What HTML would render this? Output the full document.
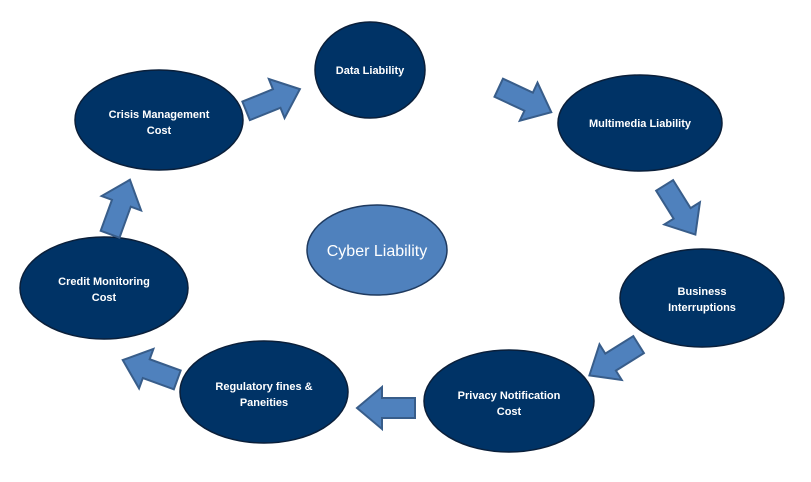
<!DOCTYPE html>
<html><head><style>
body{margin:0;background:#fff;width:811px;height:477px;overflow:hidden}
text{font-family:"Liberation Sans",sans-serif;fill:#fff;font-size:11px;font-weight:bold;text-anchor:middle}
</style></head><body>
<svg width="811" height="477" viewBox="0 0 811 477" xmlns="http://www.w3.org/2000/svg">
<defs>
<path id="ar" d="M-29,-10 L4,-10 L4,-21 L29,0 L4,21 L4,10 L-29,10 Z" fill="#4f81bd" stroke="#385d8a" stroke-width="2"/>
</defs>
<g fill="#003366" stroke="#0a1f3a" stroke-width="1.5">
<ellipse cx="370" cy="70" rx="55" ry="48"/>
<ellipse cx="640" cy="123" rx="82" ry="48"/>
<ellipse cx="159" cy="120" rx="84" ry="50"/>
<ellipse cx="104" cy="288" rx="84" ry="51"/>
<ellipse cx="702" cy="298" rx="82" ry="49"/>
<ellipse cx="509" cy="401" rx="85" ry="51"/>
<ellipse cx="264" cy="392" rx="84" ry="51"/>
</g>
<ellipse cx="377" cy="250" rx="70" ry="45" fill="#4f81bd" stroke="#1f3a5f" stroke-width="1.5"/>
<use href="#ar" transform="translate(273,100) rotate(-22)"/>
<use href="#ar" transform="translate(525,100) rotate(25)"/>
<use href="#ar" transform="translate(680,210) rotate(58)"/>
<use href="#ar" transform="translate(614,360) rotate(148)"/>
<use href="#ar" transform="translate(386,408) rotate(180)"/>
<use href="#ar" transform="translate(150,370) rotate(200)"/>
<use href="#ar" transform="translate(120,207) rotate(-70)"/>
<text x="370" y="74">Data Liability</text>
<text x="640" y="127">Multimedia Liability</text>
<text x="159" y="118">Crisis Management</text>
<text x="159" y="134">Cost</text>
<text x="377" y="256" style="font-size:16px;font-weight:normal">Cyber Liability</text>
<text x="104" y="285">Credit Monitoring</text>
<text x="104" y="301">Cost</text>
<text x="702" y="295">Business</text>
<text x="702" y="311">Interruptions</text>
<text x="509" y="399">Privacy Notification</text>
<text x="509" y="415">Cost</text>
<text x="264" y="390">Regulatory fines &amp;</text>
<text x="264" y="406">Paneities</text>
</svg>
</body></html>
